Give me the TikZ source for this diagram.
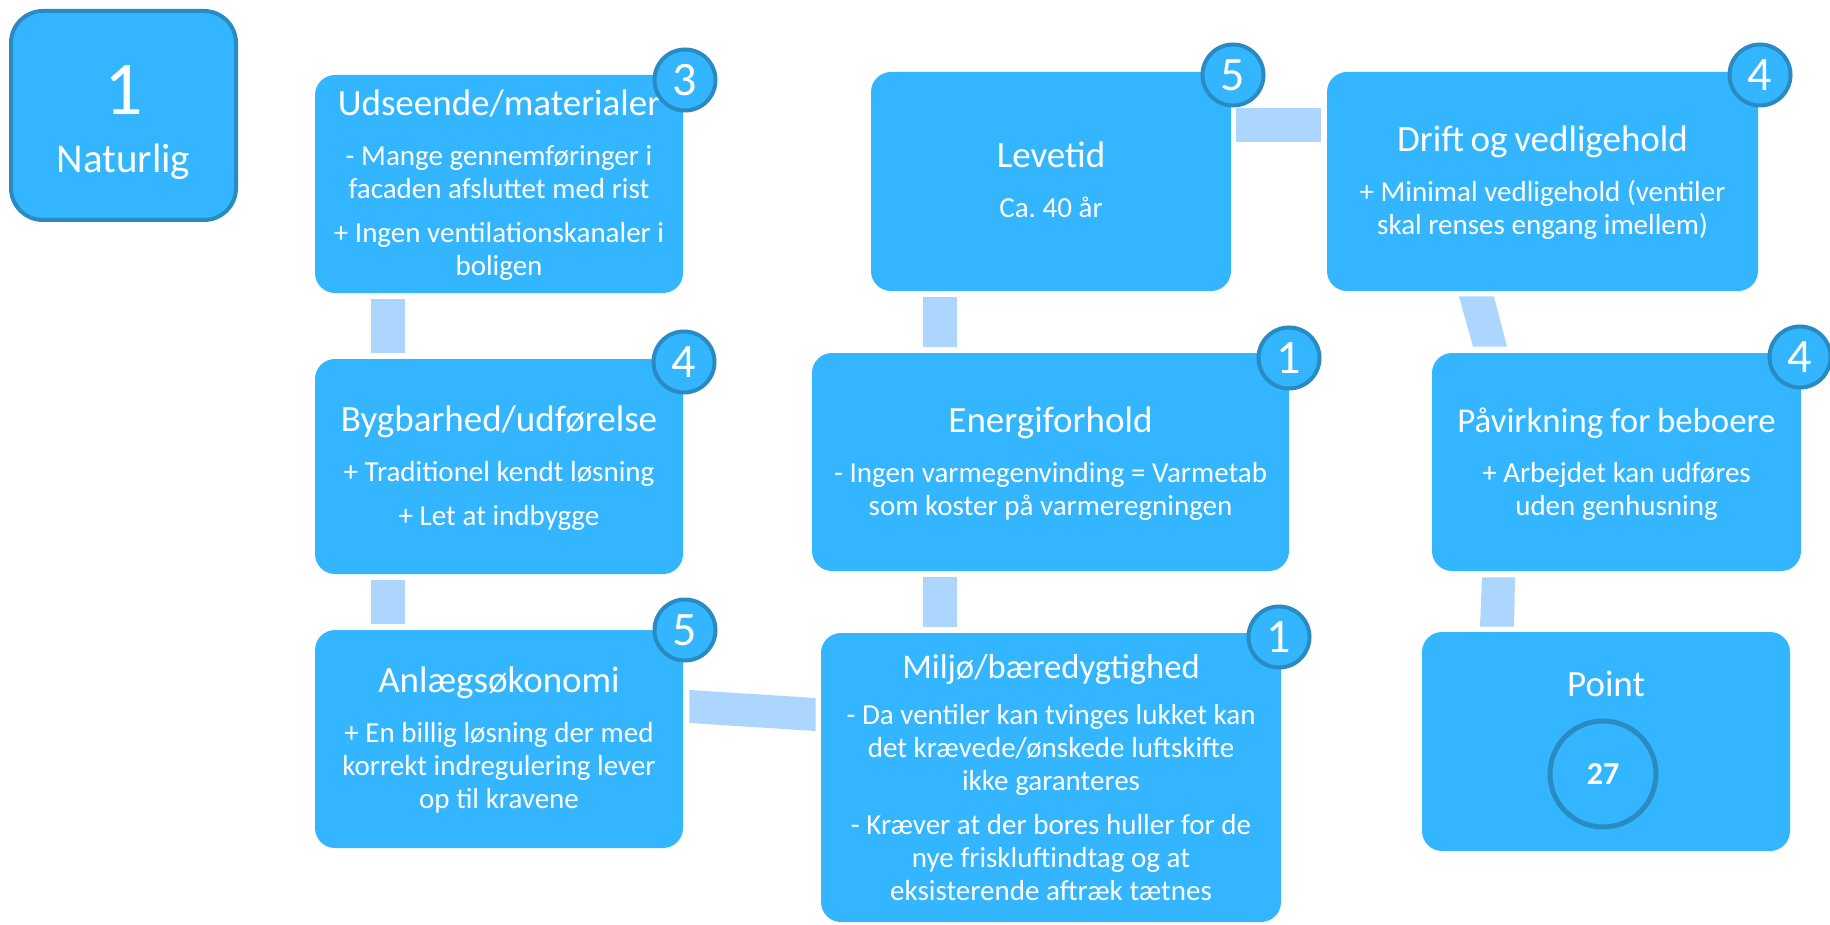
\documentclass[tikz,border=0pt]{standalone}
\usepackage{fontspec}
\setmainfont{Carlito}
\usetikzlibrary{calc}
\definecolor{boxblue}{RGB}{51,182,255}
\definecolor{ringblue}{RGB}{41,139,194}
\definecolor{connblue}{RGB}{173,214,255}
\setlength\parindent{0pt}
\frenchspacing
\newcommand\titlesz{\fontsize{18.5}{22}\selectfont}
\newcommand\bodysz{\fontsize{14.5}{16.5}\selectfont}
\newcommand\cardtext[4][18.5]{{\fontsize{#1}{22}\selectfont\rule{0pt}{14pt}#3\par}\vspace{#2}{\bodysz #4\rule[-2.5pt]{0pt}{2.5pt}\par}}
\newcommand\itemgap{\par\vspace{5.5pt}}
\tikzset{
  card/.style={rectangle, rounded corners=10pt, fill=boxblue, text=white, align=center, inner sep=0pt},
  natbox/.style={rectangle, rounded corners=16pt, fill=boxblue, draw=ringblue, line width=2pt, text=white, align=center, inner sep=0pt, minimum width=112.5pt, minimum height=104.5pt, text width=100pt},
  badge/.style={circle, fill=boxblue, draw=ringblue, line width=2pt, minimum size=30.5pt, inner sep=0pt, text=white, font=\fontsize{24}{24}\selectfont},
  scorering/.style={circle, draw=ringblue, line width=2.5pt, minimum size=53pt, inner sep=0pt, text=white, font=\bfseries\fontsize{16}{16}\selectfont},
  conn/.style={fill=connblue}
}
\begin{document}
\begin{tikzpicture}[x=0.5pt,y=-0.5pt]
\fill[white] (0,0) rectangle (1830,925);
\useasboundingbox (0,0) rectangle (1830,925);

% title box
\node[natbox] (nat) at (123.5,115.5) {{\fontsize{38}{40}\selectfont\rule{0pt}{33.5pt}1\par}\vspace{5pt}{\fontsize{20.5}{24}\selectfont Naturlig\rule[-5pt]{0pt}{5pt}\par}};

% cards
\node[card, minimum width=184pt, minimum height=109pt, text width=176pt] (ud) at (499,184)
  {\cardtext{8.5pt}{Udseende/materialer}{- Mange gennemføringer i\\ facaden afsluttet med rist\itemgap + Ingen ventilationskanaler i\\ boligen}};
\node[card, minimum width=184pt, minimum height=107.5pt, text width=176pt] (byg) at (499,466.5)
  {\cardtext{8.5pt}{Bygbarhed/udførelse}{+ Traditionel kendt løsning\itemgap + Let at indbygge}};
\node[card, minimum width=184pt, minimum height=109pt, text width=176pt] (anl) at (499,739)
  {\cardtext{8.5pt}{Anlægsøkonomi}{+ En billig løsning der med\\ korrekt indregulering lever\\ op til kravene}};
\node[card, minimum width=180pt, minimum height=109.5pt, text width=172pt] (lev) at (1051,181.5)
  {\cardtext{8.5pt}{Levetid}{Ca. 40 år}};
\node[card, minimum width=238.5pt, minimum height=109pt, text width=232pt] (en) at (1050.5,462)
  {\cardtext{8.5pt}{Energiforhold}{- Ingen varmegenvinding = Varmetab\\ som koster på varmeregningen}};
\node[card, minimum width=230pt, minimum height=144.5pt, text width=224pt] (mil) at (1051,777.5)
  {\cardtext[17.3]{6.5pt}{Miljø/bæredygtighed}{- Da ventiler kan tvinges lukket kan\\ det krævede/ønskede luftskifte\\ ikke garanteres\itemgap - Kræver at der bores huller for de\\ nye friskluftindtag og at\\ eksisterende aftræk tætnes}};
\node[card, minimum width=215.5pt, minimum height=109.5pt, text width=208pt] (dr) at (1542.5,181.5)
  {\cardtext{8.5pt}{Drift og vedligehold}{+ Minimal vedligehold (ventiler\\ skal renses engang imellem)}};
\node[card, minimum width=184.5pt, minimum height=109pt, text width=180pt] (pav) at (1616.5,462)
  {\cardtext[17.4]{8.5pt}{Påvirkning for beboere}{+ Arbejdet kan udføres\\ uden genhusning}};
\node[card, minimum width=184pt, minimum height=109.5pt, text width=176pt] (pt) at (1606,741.5)
  {\titlesz\rule[-59.5pt]{0pt}{73.5pt}Point\par};
\node[scorering] (score) at (1603,774) {27};

% connectors
\fill[conn] ([shift={(-128,6)}]ud.south) rectangle ([shift={(-94,-6)}]byg.north);
\fill[conn] ([shift={(-128,6)}]byg.south) rectangle ([shift={(-94,-6)}]anl.north);
\fill[conn] ([shift={(6,-49)}]anl.east) -- ([shift={(-5,-79.5)}]mil.west) -- ([shift={(-5,-46.5)}]mil.west) -- ([shift={(6,-16)}]anl.east) -- cycle;
\fill[conn] ([shift={(-127.5,6)}]en.south) rectangle ([shift={(-94,-6)}]mil.north);
\fill[conn] ([shift={(-128,6)}]lev.south) rectangle ([shift={(-93.5,-6)}]en.north);
\fill[conn] ([shift={(5,-73.5)}]lev.east) rectangle ([shift={(-6,-39.5)}]dr.west);
\fill[conn] ([shift={(-83.5,5)}]dr.south) -- ([shift={(-48.5,5)}]dr.south) -- ([shift={(-109.5,-6)}]pav.north) -- ([shift={(-143.5,-6)}]pav.north) -- cycle;
\fill[conn] ([shift={(-134.5,6)}]pav.south) -- ([shift={(-101.5,6)}]pav.south) -- ([shift={(-92,-5)}]pt.north) -- ([shift={(-126,-5)}]pt.north) -- cycle;

% badges
\node[badge] (bud) at (685,80) {3};
\node[badge] (bbyg) at (684,362) {4};
\node[badge] (banl) at (685,630) {5};
\node[badge] (blev) at (1233,75) {5};
\node[badge] (ben) at (1289,358) {1};
\node[badge] (bmil) at (1279,637) {1};
\node[badge] (bdr) at (1760,75) {4};
\node[badge] (bpav) at (1800,357) {4};
\end{tikzpicture}
\end{document}
